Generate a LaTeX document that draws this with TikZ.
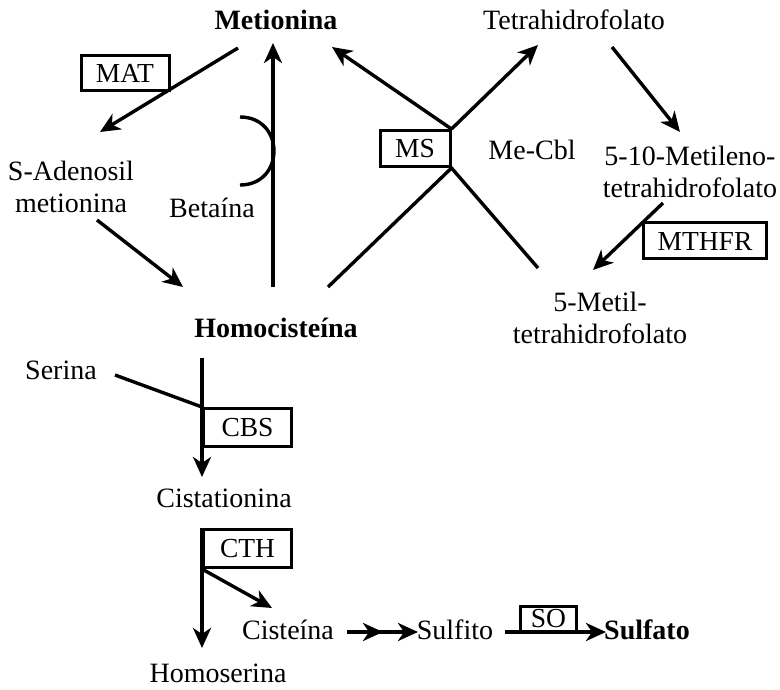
\documentclass[tikz,border=0pt]{standalone}
\usepackage{fontspec}
\setmainfont{Liberation Serif}
\usetikzlibrary{arrows.meta}
\begin{document}
\begin{tikzpicture}[x=1pt,y=-1pt,
  lbl/.style={inner sep=0pt, font=\fontsize{28}{31.5}\selectfont, align=center},
  bold/.style={lbl, font=\fontsize{28}{31.5}\selectfont\bfseries},
  enz/.style={draw, line width=3pt, inner sep=0pt, font=\fontsize{27.5}{30}\selectfont},
  conn/.style={line width=3.4pt},
  arr/.style={conn, -{Stealth[length=20pt,width=18pt,inset=6pt]}}]
\useasboundingbox (0,0) rectangle (780,690);

% metabolites
\node[bold] (met) at (276,20) {Metionina};
\node[lbl] (thf) at (574,20) {Tetrahidrofolato};
\node[lbl] (sam) at (71,187) {S-Adenosil\\metionina};
\node[lbl] (bet) at (212,208) {Betaína};
\node[lbl] (mecbl) at (532,150) {Me-Cbl};
\node[lbl] (mthf) at (690,172) {5-10-Metileno-\\tetrahidrofolato};
\node[lbl] (mtf) at (600,318) {5-Metil-\\tetrahidrofolato};
\node[bold] (hcy) at (276,328) {Homocisteína};
\node[lbl] (ser) at (61,370) {Serina};
\node[lbl] (cist) at (224,498) {Cistationina};
\node[lbl] (cys) at (288,630) {Cisteína};
\node[lbl] (hser) at (218,673) {Homoserina};
\node[lbl] (sulfito) at (455,630) {Sulfito};
\node[bold] (sulfato) at (647,630) {Sulfato};

% enzymes
\node[enz, minimum width=88pt, minimum height=35pt] (mat) at (125,73.5) {MAT};
\node[enz, minimum width=70pt, minimum height=36pt] (ms) at (415,148.5) {MS};
\node[enz, minimum width=123pt, minimum height=36pt] (mthfr) at (705,241) {MTHFR};
\node[enz, minimum width=88pt, minimum height=38pt] (cbs) at (247.5,427.5) {CBS};
\node[enz, minimum width=88pt, minimum height=38pt] (cth) at (247.5,548.5) {CTH};
\node[enz, minimum width=56pt, minimum height=26pt] (so) at (548.5,619) {SO};

% connector end points
\coordinate (matA) at (238,48);
\coordinate (matB) at (100,132);
\coordinate (samA) at (97,220);
\coordinate (samB) at (183,287);
\coordinate (betA) at (273,287);
\coordinate (betB) at (273,43);
\coordinate (msLo) at (ms.south east);
\coordinate (msHi) at (ms.north east);
\coordinate (hcyR) at (328,287);
\coordinate (mtfL) at (538,268);
\coordinate (metR) at (332,47);
\coordinate (thfL) at (538,45);
\coordinate (thfR) at (612,47);
\coordinate (mthfT) at (680,132);
\coordinate (mthfB) at (663,203);
\coordinate (mtfT) at (593,270);
\coordinate (hcyB) at (cbs.north west |- 0,358);
\coordinate (cistT) at (cbs.north west |- 0,477);
\coordinate (serR) at (115,375);
\coordinate (hserT) at (cth.north west |- 0,648);
\coordinate (cysT) at (272,608);
\coordinate (cysR) at (347,632);
\coordinate (midHead) at (383,632);
\coordinate (sulfitoL) at (418,632);
\coordinate (sulfitoR) at (505,632);
\coordinate (sulfatoL) at (606,632);

% methionine cycle
\draw[arr] (matA) -- (matB);
\draw[arr] (samA) -- (samB);
\draw[arr] (betA) -- (betB);
\draw[conn] (240,117) .. controls (285.3,117) and (285.3,185) .. (240,185);

% methionine synthase cross
\draw[conn] (hcyR) -- (msLo) -- (mtfL);
\draw[arr] (msHi) -- (metR);
\draw[arr] (msHi) -- (thfL);

% folate cycle
\draw[arr] (thfR) -- (mthfT);
\draw[arr] (mthfB) -- (mtfT);

% transsulfuration
\draw[arr] (hcyB) -- (cistT);
\draw[conn] (serR) -- (cbs.north west);
\draw[arr] (cth.north west) -- (hserT);
\draw[arr] (cth.south west) -- (cysT);
\draw[arr] (cysR) -- (sulfitoL);
\draw[arr] (cysR) -- (midHead);
\draw[arr] (sulfitoR) -- (sulfatoL);
\end{tikzpicture}
\end{document}
